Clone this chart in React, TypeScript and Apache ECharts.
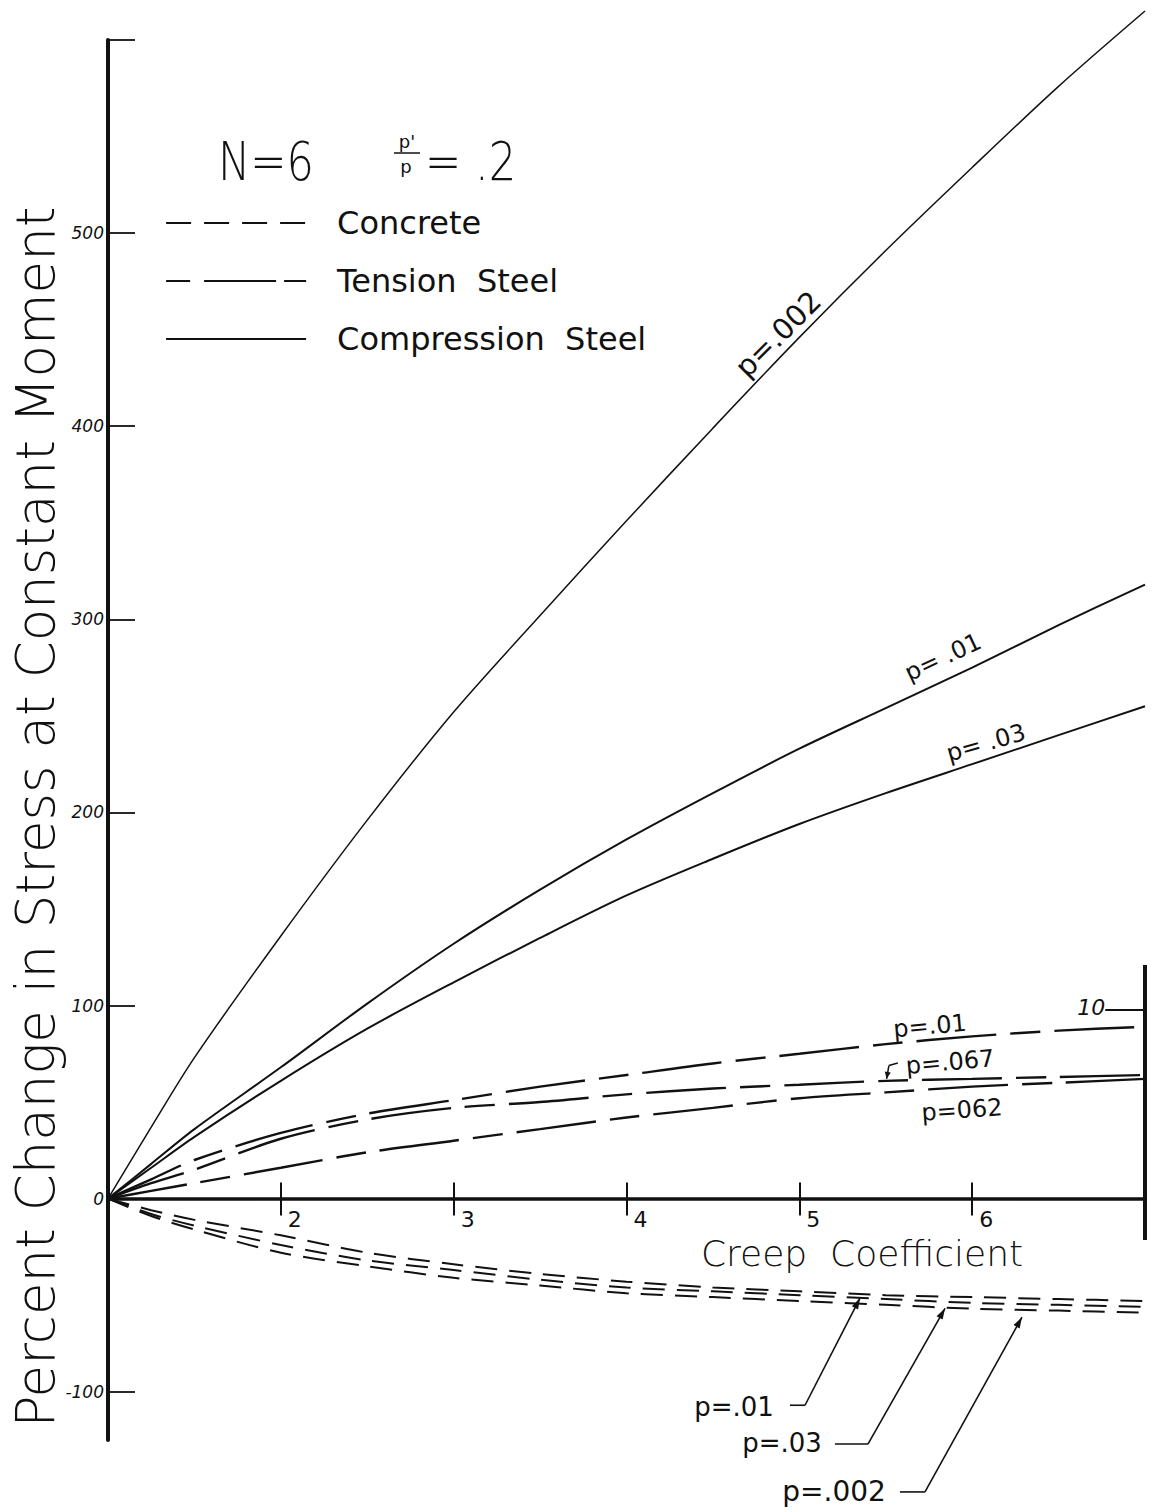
import React, { useEffect, useRef } from 'react';
import * as echarts from 'echarts';

// Creep coefficient sample points shared by every curve
const creep = [1, 1.25, 1.5, 2, 2.5, 3, 3.5, 4, 4.5, 5, 5.5, 6, 6.5, 7];

// Compression steel (solid)
const compP002 = [0, 37, 73, 136, 196, 252, 302, 351, 399, 446, 491, 534, 576, 615];
const compP01 = [0, 18, 36, 68, 101, 132, 160, 186, 210, 233, 254, 275, 297, 318];
const compP03 = [0, 16, 32, 61, 88, 112, 135, 157, 176, 194, 210, 225, 240, 255];

// Tension steel (long dash)
const tensP01 = [0, 10, 20, 34, 44, 51, 58, 64, 70, 75, 80, 84, 87, 89];
const tensP067 = [0, 8, 15, 31, 41, 47, 50, 54, 57, 59, 61, 62, 63, 64];
const tensP062 = [0, 4, 8, 16, 24, 30, 36, 42, 47, 52, 55, 58, 60, 62];

// Concrete (short dash)
const concP01 = [0, -6, -11, -19, -28, -34, -39, -43, -46, -48, -50, -51, -52, -53];
const concP03 = [0, -8, -14, -24, -32, -37, -42, -46, -48, -50, -52, -54, -55, -56];
const concP002 = [0, -9, -16, -28, -35, -41, -45, -49, -51, -53, -55, -57, -58, -59];

// Axis ticks and labels
const yTickValues = [-100, 0, 100, 200, 300, 400, 500, 600];
const yLabelValues = [-100, 0, 100, 200, 300, 400, 500];
const xTickValues = [2, 3, 4, 5, 6];
const Y_MIN = -125;
const Y_MAX = 600;

// Curve captions, anchored in data space
const curveLabels = [
  { text: 'p=.002', at: [4.877, 447.7], rot: 45, size: 29 },
  { text: 'p= .01', at: [5.831, 280.4], rot: 25, size: 24 },
  { text: 'p= .03', at: [6.08, 236.0], rot: 16, size: 24 },
  { text: 'p=.01', at: [5.756, 89.4], rot: 5, size: 24 },
  { text: 'p=.067', at: [5.872, 70.7], rot: 5, size: 24 },
  { text: 'p=062', at: [5.941, 45.9], rot: 4, size: 24 },
];

// Leader-line captions for the concrete curves
const leaderLabels = [
  { text: 'p=.01', at: [4.622, -108], from: [4.946, -107], elbow: [5.033, -107], tip: [5.351, -51.5] },
  { text: 'p=.03', at: [4.9, -126.6], from: [5.206, -127.1], elbow: [5.397, -127.1], tip: [5.843, -56.8] },
  { text: 'p=.002', at: [5.201, -151.9], from: [5.582, -151.9], elbow: [5.727, -151.9], tip: [6.288, -61.4] },
];

// Short auxiliary scale at the right end of the creep axis
const sideScale = { x: 7, top: 121, bottom: -21.4, tick: 97.7, tickFrom: 6.77, label: '10' };

const INK = '#111';
const FONT = '"DejaVu Sans", "Liberation Sans", sans-serif';
const THIN = 200;

const CONCRETE_DASH = [22, 12];
const TENSION_DASH = [80, 14, 30, 14];

// Plot frame
const W = 1157;
const H = 1512;
const G_LEFT = 108;
const G_RIGHT = 12;
const G_TOP = 40;
const G_BOTTOM = 72;

function pairs(vals: number[]) {
  return creep.map((c, i) => [c, vals[i]]);
}

function curve(name: string, vals: number[], width: number, dash: number[] | 'solid', extra: any = {}) {
  return {
    type: 'line',
    name,
    data: pairs(vals),
    smooth: 0.3,
    symbol: 'none',
    lineStyle: { color: INK, width, type: dash },
    itemStyle: { color: INK },
    emphasis: { disabled: true },
    silent: true,
    ...extra,
  };
}

export default function App() {
  const ref = useRef<HTMLDivElement>(null);

  useEffect(() => {
    const el = ref.current;
    if (!el) return;
    const chart = echarts.init(el, null, { renderer: 'svg' });

    // The creep axis is drawn along the zero line: a companion grid whose
    // bottom edge sits exactly at y = 0 of the main grid carries it.
    const plotH = H - G_TOP - G_BOTTOM;
    const zeroFromBottom = G_BOTTOM + (plotH * (0 - Y_MIN)) / (Y_MAX - Y_MIN);

    const xBase = { type: 'value', min: 1, max: 7, splitLine: { show: false } };

    chart.setOption({
      animation: false,
      backgroundColor: '#ffffff',
      textStyle: { fontFamily: FONT, color: INK },
      grid: [
        { left: G_LEFT, right: G_RIGHT, top: G_TOP, bottom: G_BOTTOM, containLabel: false, outerBoundsMode: 'none' },
        { left: G_LEFT, right: G_RIGHT, top: G_TOP, bottom: zeroFromBottom, containLabel: false, outerBoundsMode: 'none' },
      ],
      legend: {
        orient: 'vertical',
        left: 160,
        top: 202,
        itemWidth: 140,
        itemHeight: 14,
        itemGap: 26,
        selectedMode: false,
        itemStyle: { opacity: 0, borderWidth: 0 },
        formatter: (name: string) => name.replace(' ', '  '),
        textStyle: {
          fontFamily: FONT,
          fontWeight: 'normal',
          fontSize: 32,
          color: INK,
          lineHeight: 30,
          padding: [0, 0, 0, 26],
        },
        data: [
          { name: 'Concrete', lineStyle: { type: [25, 13], width: 2 } },
          { name: 'Tension Steel', lineStyle: { type: [24, 14, 72, 8], width: 2.2 } },
          { name: 'Compression Steel', lineStyle: { type: 'solid', width: 2 } },
        ],
      },
      xAxis: [
        { ...xBase, gridIndex: 0, show: false },
        {
          ...xBase,
          gridIndex: 1,
          position: 'bottom',
          axisLine: { onZero: false, lineStyle: { color: INK, width: 3.5 } },
          axisTick: { show: true, inside: false, length: 17, customValues: xTickValues, lineStyle: { color: INK, width: 2 } },
          axisLabel: {
            customValues: xTickValues,
            fontFamily: FONT,
            fontSize: 22,
            color: INK,
            align: 'left',
            margin: 10,
            padding: [0, 0, 0, 7],
          },
        },
        {
          ...xBase,
          gridIndex: 1,
          position: 'bottom',
          axisLine: { show: false, onZero: false },
          axisTick: { show: true, inside: true, length: 16, customValues: xTickValues, lineStyle: { color: INK, width: 2 } },
          axisLabel: { show: false },
        },
      ],
      yAxis: [
        {
          type: 'value',
          gridIndex: 0,
          min: Y_MIN,
          max: Y_MAX,
          position: 'left',
          splitLine: { show: false },
          axisLine: { lineStyle: { color: INK, width: 4 } },
          axisTick: { show: true, inside: true, length: 27, customValues: yTickValues, lineStyle: { color: INK, width: 1.8 } },
          axisLabel: {
            customValues: yLabelValues,
            fontFamily: FONT,
            fontStyle: 'italic',
            fontSize: 17,
            color: INK,
            margin: 4,
          },
        },
        { type: 'value', gridIndex: 1, min: 0, max: Y_MAX, show: false },
      ],
      series: [
        curve('Compression Steel', compP002, 1.5, 'solid', { clip: false }),
        curve('Compression Steel', compP01, 2, 'solid'),
        curve('Compression Steel', compP03, 2, 'solid'),
        curve('Tension Steel', tensP01, 2.4, TENSION_DASH),
        curve('Tension Steel', tensP067, 2.4, TENSION_DASH),
        curve('Tension Steel', tensP062, 2.4, TENSION_DASH),
        curve('Concrete', concP01, 2, CONCRETE_DASH),
        curve('Concrete', concP03, 2, CONCRETE_DASH),
        curve('Concrete', concP002, 2, CONCRETE_DASH),
      ],
    });

    const px = (p: number[]) => chart.convertToPixel({ seriesIndex: 0 }, p) as number[];
    const deg = (d: number) => (d * Math.PI) / 180;

    const text = (t: string, x: number, y: number, size: number, extra: any = {}) => ({
      type: 'text',
      x,
      y,
      silent: true,
      ...extra,
      style: {
        text: t,
        fontFamily: FONT,
        fontWeight: size >= 36 ? THIN : 'normal',
        fontSize: size,
        fill: INK,
        align: 'center',
        verticalAlign: 'middle',
        ...(extra.style || {}),
      },
    });
    const seg = (a: number[], b: number[], w = 1.6) => ({
      type: 'line',
      silent: true,
      shape: { x1: a[0], y1: a[1], x2: b[0], y2: b[1] },
      style: { stroke: INK, lineWidth: w },
    });
    const arrowHead = (from: number[], tip: number[], len = 11, half = 3.5) => {
      const dx = tip[0] - from[0];
      const dy = tip[1] - from[1];
      const l = Math.hypot(dx, dy) || 1;
      const ux = dx / l;
      const uy = dy / l;
      const bx = tip[0] - ux * len;
      const by = tip[1] - uy * len;
      return {
        type: 'polygon',
        silent: true,
        shape: { points: [[tip[0], tip[1]], [bx - uy * half, by + ux * half], [bx + uy * half, by - ux * half]] },
        style: { fill: INK },
      };
    };

    const elements: any[] = [];

    // Titles
    elements.push(
      text('Percent Change in Stress at Constant Moment', 35, 817, 53, { rotation: Math.PI / 2 }),
      text('Creep  Coefficient', 862, 1253, 36),
      text('N=6', 218, 162, 54, { scaleX: 0.8, style: { align: 'left' } }),
      text("p'", 407, 141, 18),
      seg([394, 153], [420, 153], 1.5),
      text('p', 406, 166, 18),
      text('= .2', 425, 162, 54, { scaleX: 0.8, style: { align: 'left' } }),
    );

    // Captions along the curves
    curveLabels.forEach((c) => {
      const p = px(c.at);
      elements.push(text(c.text, p[0], p[1], c.size, { rotation: deg(c.rot) }));
    });

    // Small hooked arrow in front of the middle tension-steel caption
    {
      const a = px([5.57, 70.2]);
      const b = px([5.518, 68.9]);
      const c = px([5.505, 62.0]);
      elements.push(seg(a, b, 1.5), seg(b, c, 1.5), arrowHead(b, c, 7, 3));
    }

    // Leader lines for the concrete curves
    leaderLabels.forEach((l) => {
      const t = px(l.at);
      const f = px(l.from);
      const e = px(l.elbow);
      const tip = px(l.tip);
      elements.push(text(l.text, t[0], t[1], l.text.length > 5 ? 28 : 26));
      elements.push(seg(f, e, 1.6), seg(e, tip, 1.6), arrowHead(e, tip));
    });

    // Auxiliary right-hand scale
    {
      const top = px([sideScale.x, sideScale.top]);
      const bottom = px([sideScale.x, sideScale.bottom]);
      const t0 = px([sideScale.tickFrom, sideScale.tick]);
      const t1 = px([sideScale.x, sideScale.tick]);
      elements.push(seg(top, bottom, 4), seg(t0, t1, 2));
      elements.push(text(sideScale.label, t0[0] - 14, t0[1] - 2, 22, { style: { fontStyle: 'italic' } }));
    }

    chart.setOption({ graphic: { elements } });

    return () => chart.dispose();
  }, []);

  return (
    <div
      ref={ref}
      style={{ position: 'absolute', left: 0, top: 0, width: W, height: H, background: '#fff' }}
    />
  );
}
